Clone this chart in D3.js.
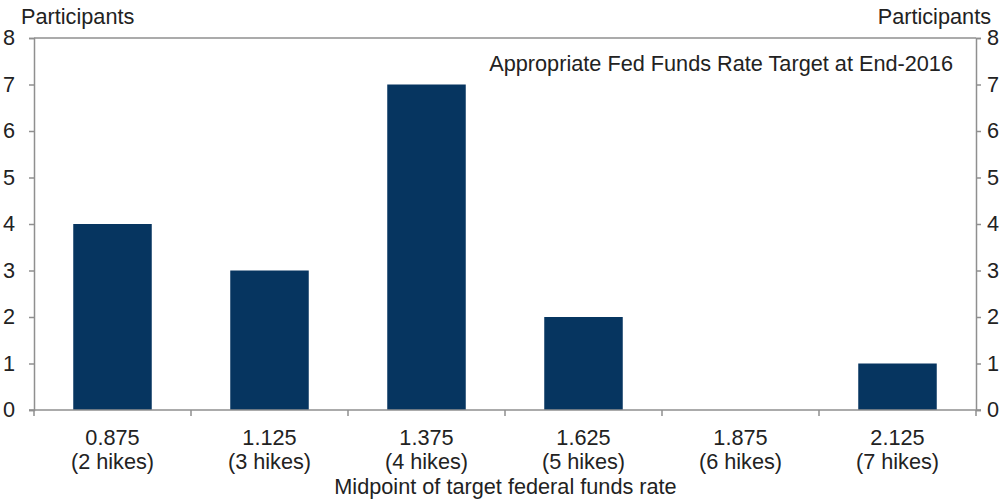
<!DOCTYPE html>
<html>
<head>
<meta charset="utf-8">
<script src="https://cdn.jsdelivr.net/npm/d3@7"></script>
<style>
  html, body { margin: 0; padding: 0; background: #fff; }
  svg { display: block; }
  text { font-family: "Liberation Sans", Arial, sans-serif; fill: #222; }
</style>
</head>
<body>
<svg id="chart" width="1003" height="502"></svg>
<script>
const rates = ["0.875", "1.125", "1.375", "1.625", "1.875", "2.125"];
const hikes = ["(2 hikes)", "(3 hikes)", "(4 hikes)", "(5 hikes)", "(6 hikes)", "(7 hikes)"];
const participants = [4, 3, 7, 2, 0, 1];
const yTicks = [0, 1, 2, 3, 4, 5, 6, 7, 8];
const titleText = "Appropriate Fed Funds Rate Target at End-2016";
const yLabel = "Participants";
const xLabel = "Midpoint of target federal funds rate";

const svg = d3.select("#chart");
const m = { left: 34, right: 976, top: 38, bottom: 410 };
const axisColor = "#8f8f8f";
const barColor = "#063560";
const fs = "21.7px";

const x = d3.scaleBand().domain(rates).range([m.left, m.right]).paddingInner(0.5).paddingOuter(0.25);
const y = d3.scaleLinear().domain([0, 8]).range([m.bottom, m.top]);

// bars
svg.append("g").selectAll("rect").data(participants).join("rect")
  .attr("x", (d, i) => x(rates[i]))
  .attr("y", d => y(d))
  .attr("width", x.bandwidth())
  .attr("height", d => y(0) - y(d))
  .attr("fill", barColor);

// top border
svg.append("line").attr("x1", m.left).attr("x2", m.right).attr("y1", m.top).attr("y2", m.top)
  .attr("stroke", axisColor).attr("stroke-width", 1.5);

// left axis
const gl = svg.append("g").attr("transform", `translate(${m.left},0)`)
  .call(d3.axisLeft(y).tickValues(yTicks).tickSize(5).tickPadding(14).tickFormat(d3.format("d")));
// right axis
const gr = svg.append("g").attr("transform", `translate(${m.right},0)`)
  .call(d3.axisRight(y).tickValues(yTicks).tickSize(5).tickPadding(6).tickFormat(d3.format("d")));
[gl, gr].forEach(g => {
  g.select(".domain").attr("stroke", axisColor).attr("stroke-width", 1.5);
  g.selectAll(".tick line").attr("stroke", axisColor).attr("stroke-width", 1.5);
  g.selectAll(".tick text").style("font-size", fs).attr("fill", "#222")
    .style("font-family", '"Liberation Sans", Arial, sans-serif');
});

// bottom axis: boundary ticks
const bounds = rates.map(r => x(r) - x.step() * x.paddingInner() / 2).concat([m.right]);
const gb = svg.append("g");
gb.append("line").attr("x1", m.left - 5).attr("x2", m.right + 5).attr("y1", m.bottom).attr("y2", m.bottom)
  .attr("stroke", axisColor).attr("stroke-width", 1.5);
gb.selectAll("line.bt").data(bounds).join("line").attr("class", "bt")
  .attr("x1", d => d).attr("x2", d => d).attr("y1", m.bottom).attr("y2", m.bottom + 6)
  .attr("stroke", axisColor).attr("stroke-width", 1.5);
gb.selectAll("text.rate").data(rates).join("text").attr("class", "rate")
  .attr("x", d => x(d) + x.bandwidth() / 2).attr("y", 445)
  .attr("text-anchor", "middle").style("font-size", fs).text(d => d);
gb.selectAll("text.hike").data(hikes).join("text").attr("class", "hike")
  .attr("x", (d, i) => x(rates[i]) + x.bandwidth() / 2).attr("y", 469)
  .attr("text-anchor", "middle").style("font-size", fs).text(d => d);

svg.append("text").attr("x", 505.5).attr("y", 494)
  .attr("text-anchor", "middle").style("font-size", fs).text(xLabel);

svg.append("text").attr("x", 21).attr("y", 24).style("font-size", fs).text(yLabel);
svg.append("text").attr("x", 991).attr("y", 24).attr("text-anchor", "end").style("font-size", fs).text(yLabel);

svg.append("text").attr("x", 953).attr("y", 71).attr("text-anchor", "end").style("font-size", fs).text(titleText);
</script>
</body>
</html>
